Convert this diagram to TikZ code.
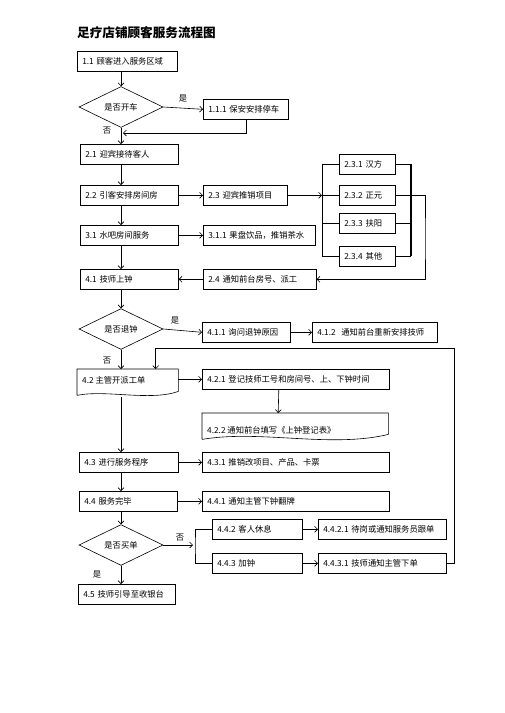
\documentclass[tikz,border=0pt]{standalone}
\usepackage{fontspec}
\setmainfont{Noto Sans CJK SC}
\usepackage{tikz}
\usetikzlibrary{arrows.meta,shapes.geometric}

\tikzset{
  stepbox/.style={draw, line width=0.6pt, anchor=north west, minimum height=20pt,
    text width=#1, align=left, inner xsep=5pt, inner ysep=0pt, font=\fontsize{8.3}{10}\selectfont},
  docframe/.style={anchor=north west, minimum width=#1, minimum height=26pt, inner sep=0pt},
  decide/.style={draw, line width=0.6pt, diamond, minimum width=84pt, minimum height=32pt,
    inner sep=0pt, font=\fontsize{8.3}{10}\selectfont},
  flow/.style={line width=0.6pt},
  tag/.style={font=\fontsize{8.3}{10}\selectfont, inner sep=0pt}
}

\begin{document}
\begin{tikzpicture}[x=1pt,y=-1pt,>={Straight Barb[length=3pt,width=6pt]}]
  \useasboundingbox (0,0) rectangle (504,713);
  \node[anchor=west,inner sep=0pt,font=\fontsize{12.6}{14}\bfseries] (title) at (77,33) {足疗店铺顾客服务流程图};

  % main column
  \node[stepbox=90pt] (b11) at (77,51) {1.1 顾客进入服务区域};
  \node[decide] (d1) at (121,107) {是否开车};
  \node[stepbox=75pt] (b111) at (203,99) {1.1.1 保安安排停车};
  \node[stepbox=88pt] (b21) at (80,144) {2.1 迎宾接待客人};
  \node[stepbox=88pt] (b22) at (80,185) {2.2 引客安排房间房};
  \node[stepbox=74pt] (b23) at (203,185) {2.3 迎宾推销项目};
  \node[stepbox=88pt] (b31) at (80,225) {3.1 水吧房间服务};
  \node[stepbox=102pt] (b311) at (203,225) {3.1.1 果盘饮品，推销茶水};
  \node[stepbox=88pt] (b41) at (80,269) {4.1 技师上钟};
  \node[stepbox=103pt] (b24) at (203,269) {2.4 通知前台房号、派工};

  % 2.3 branches
  \node[stepbox=46pt] (b231) at (339,154) {2.3.1 汉方};
  \node[stepbox=46pt] (b232) at (339,185) {2.3.2 正元};
  \node[stepbox=46pt] (b233) at (339,213) {2.3.3 扶阳};
  \node[stepbox=46pt] (b234) at (339,246) {2.3.4 其他};

  \node[decide] (d2) at (121,329) {是否退钟};
  \node[stepbox=78pt] (b411) at (202,322) {4.1.1 询问退钟原因};
  \node[stepbox=115pt] (b412) at (312,322) {4.1.2~ 通知前台重新安排技师};
  \node[docframe=101pt] (b42) at (77,369) {};
  \node[tag,anchor=west] (t42) at (82,380) {4.2 主管开派工单};
  \node[stepbox=177pt] (b421) at (202,369) {4.2.1 登记技师工号和房间号、上、下钟时间};
  \node[docframe=186pt] (b422) at (202,413) {};
  \node[tag,anchor=west] (t422) at (207,430) {4.2.2 通知前台填写《上钟登记表》};
  \node[stepbox=89pt] (b43) at (79,452) {4.3 进行服务程序};
  \node[stepbox=177pt] (b431) at (202,452) {4.3.1 推销改项目、产品、卡票};
  \node[stepbox=88pt] (b44) at (79,491) {4.4 服务完毕};
  \node[stepbox=177pt] (b441) at (202,491) {4.4.1 通知主管下钟翻牌};
  \node[decide] (d3) at (121,545) {是否买单};
  \node[stepbox=80pt] (b442) at (212,519) {4.4.2 客人休息};
  \node[stepbox=80pt] (b443) at (212,553) {4.4.3 加钟};
  \node[stepbox=118pt] (b4421) at (318,519) {4.4.2.1 待岗或通知服务员跟单};
  \node[stepbox=118pt] (b4431) at (318,553) {4.4.3.1 技师通知主管下单};
  \node[stepbox=87pt] (b45) at (78,584) {4.5 技师引导至收银台};

  % document outlines
  \draw[flow] (b42.south west) -- (b42.north west) -- (b42.north east) -- ([yshift=4pt]b42.south east)
    .. controls +(-28,10) and +(28,-6) .. (b42.south west);
  \draw[flow] (b422.south west) -- (b422.north west) -- (b422.north east) -- ([yshift=5pt]b422.south east)
    .. controls +(-58,14) and +(58,-10) .. (b422.south west);

  % junction points
  \coordinate (j1) at (123,133);
  \coordinate (bl1) at (322,164);
  \coordinate (bl4) at (322,256);
  \coordinate (br1) at (411,164);
  \coordinate (br4) at (411,256);
  \coordinate (r2) at (425,240);
  \coordinate (l1) at (454,348);
  \coordinate (k1) at (193,545);
  \coordinate (k2) at (195,545);

  % connectors
  \draw[flow,->] (d1.north |- b11.south) -- (d1.north);
  \draw[flow,->] (d1.east) -- (b111.west);
  \draw[flow,->] (d1.south) -- (d1.south |- b21.north);
  \draw[flow,->] (b111.south) |- (j1);
  \draw[flow,->] (d1.south |- b21.south) -- (d1.south |- b22.north);
  \draw[flow,->] (d1.south |- b22.south) -- (d1.south |- b31.north);
  \draw[flow,->] (d1.south |- b31.south) -- (d1.south |- b41.north);
  \draw[flow,->] (b22.east) -- (b23.west);
  \draw[flow,->] (b31.east) -- (b311.west);
  \draw[flow,->] (b23.east) -- (b23.east -| bl1);
  \draw[flow] (bl1) -- (bl4);
  \foreach \b in {b231,b232,b233,b234}
    \draw[flow] (\b.west -| bl1) -- (\b.west);
  \draw[line width=1.2pt] (br1) -- (br4);
  \foreach \b in {b231,b233,b234}
    \draw[flow] (\b.east) -- (\b.east -| br1);
  \draw[flow,->] (b232.east) -| (r2) |- (b24.east);
  \draw[flow,->] (b24.west) -- (b41.east);

  \draw[flow,->] (d2.north |- b41.south) -- (d2.north);
  \draw[flow,->] (d2.east) -- (b411.west);
  \draw[flow,->] (b411.east) -- (b412.west);
  \draw[flow,->] (d2.south) -- (d2.south |- b42.north);
  \draw[flow,->] (b4431.east) -| (l1) -| ([xshift=28pt]b42.north);
  \draw[flow,->] (b421.west -| b42.east) -- (b421.west);
  \draw[flow,->] ([xshift=-17pt]b421.south) -- ([xshift=-17pt]b422.north);
  \draw[flow,->] ([yshift=-2pt]d2.south |- b42.south) -- (d2.south |- b43.north);
  \draw[flow,->] (b43.east) -- (b431.west);
  \draw[flow,->] (d2.south |- b43.south) -- (d2.south |- b44.north);
  \draw[flow,->] (b44.east) -- (b441.west);
  \draw[flow,->] (d3.north |- b44.south) -- (d3.north);
  \draw[flow,->] (d3.east) -- (k1);
  \draw[flow] (b442.west) -| (k2) |- (b443.west);
  \draw[flow,->] (b442.east) -- (b4421.west);
  \draw[flow,->] (b443.east) -- (b4431.west);
  \draw[flow,->] (d3.south) -- (d3.south |- b45.north);

  % branch labels
  \node[tag] (y1) at (183,99) {是};
  \node[tag] (n1) at (107,131) {否};
  \node[tag] (y2) at (175,321) {是};
  \node[tag] (n2) at (107,361) {否};
  \node[tag] (n3) at (180,538) {否};
  \node[tag] (y3) at (97,575) {是};
\end{tikzpicture}
\end{document}
